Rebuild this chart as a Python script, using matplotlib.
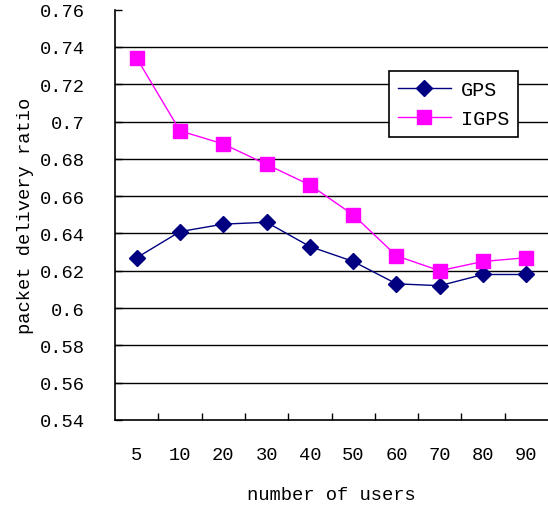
import matplotlib.pyplot as plt
import numpy as np

# data
users = ['5', '10', '20', '30', '40', '50', '60', '70', '80', '90']
gps = [0.627, 0.641, 0.645, 0.646, 0.633, 0.625, 0.613, 0.612, 0.618, 0.618]
igps = [0.734, 0.695, 0.688, 0.677, 0.666, 0.650, 0.628, 0.620, 0.625, 0.627]
y_ticks = [0.54, 0.56, 0.58, 0.6, 0.62, 0.64, 0.66, 0.68, 0.7, 0.72, 0.74, 0.76]
y_labels = ['0.54', '0.56', '0.58', '0.6', '0.62', '0.64', '0.66', '0.68', '0.7', '0.72', '0.74', '0.76']

plt.rcParams['font.family'] = ['Liberation Mono', 'DejaVu Sans Mono']

fig = plt.figure(figsize=(5.48, 5.06), dpi=100)
ax = fig.add_axes([0.210, 0.168, 0.790, 0.811])

x = np.arange(len(users))
ax.plot(x, gps, color='#000080', lw=1.0, marker='D', markersize=8.5,
        markeredgecolor='#000080', label='GPS', zorder=3)
ax.plot(x, igps, color='#ff00ff', lw=1.0, marker='s', markersize=9.5,
        markeredgecolor='#ff00ff', label='IGPS', zorder=3)

ax.set_xlim(-0.5, len(users) - 0.5)
ax.set_ylim(0.54, 0.76)

# horizontal gridlines (no line at the very top)
for v in y_ticks[1:-1]:
    ax.axhline(v, color='black', lw=1.0, zorder=1)

ax.set_yticks(y_ticks)
ax.set_yticklabels(y_labels, fontsize=13.5)
ax.set_xticks(x)
ax.set_xticklabels(users, fontsize=13.5)
ax.set_xticks(np.arange(0.5, len(users) - 0.5, 1), minor=True)
ax.tick_params(axis='x', which='major', length=0, pad=19)
ax.tick_params(axis='x', which='minor', direction='in', length=5, width=1)
ax.tick_params(axis='y', direction='in', length=5, width=1, pad=22)

for side in ['top', 'right']:
    ax.spines[side].set_visible(False)
for side in ['left', 'bottom']:
    ax.spines[side].set_linewidth(1.2)

ax.set_xlabel('number of users', fontsize=13.5, labelpad=16)
ax.set_ylabel('packet delivery ratio', fontsize=13.5, labelpad=4)

leg = ax.legend(loc='upper left', bbox_to_anchor=(0.61, 0.875), fontsize=14.5,
                frameon=True, fancybox=False, edgecolor='black',
                handlelength=2.6, borderpad=0.45, labelspacing=0.5,
                handletextpad=0.5)
leg.get_frame().set_linewidth(1.2)
leg.get_frame().set_alpha(1)

fig.savefig('out.png', dpi=100)
